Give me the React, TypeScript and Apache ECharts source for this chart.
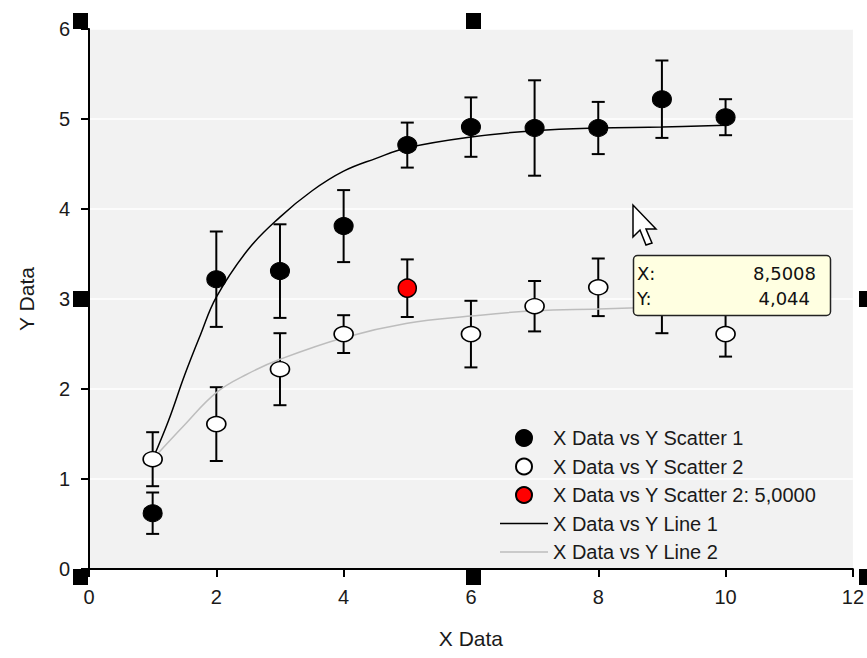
import React, { useEffect, useRef } from "react";
import * as echarts from "echarts";

const xValues = [1, 2, 3, 4, 5, 6, 7, 8, 9, 10];
const scatter1Y = [0.62, 3.22, 3.31, 3.81, 4.71, 4.91, 4.9, 4.9, 5.22, 5.02];
const scatter1Err = [0.23, 0.53, 0.52, 0.4, 0.25, 0.33, 0.53, 0.29, 0.43, 0.2];
const scatter2Y = [1.22, 1.61, 2.22, 2.61, 3.12, 2.61, 2.92, 3.13, 2.95, 2.61];
const scatter2Err = [0.3, 0.41, 0.4, 0.21, 0.32, 0.37, 0.28, 0.32, 0.33, 0.25];
const selectedIndex = 4;

const line1X = [1, 1.25, 1.5, 1.75, 2, 2.5, 3, 3.5, 4, 4.5, 5, 6, 7, 8, 9, 10];
const line1Y = [1.22, 1.65, 2.15, 2.6, 3.02, 3.55, 3.91, 4.2, 4.42, 4.56, 4.68, 4.8, 4.87, 4.9, 4.91, 4.93];
const line2X = [1, 1.5, 2, 2.5, 3, 4, 5, 6, 7, 8, 9, 10];
const line2Y = [1.22, 1.6, 1.96, 2.17, 2.33, 2.57, 2.73, 2.81, 2.87, 2.89, 2.91, 2.92];

const seriesNames = [
  "X Data vs Y Scatter 1",
  "X Data vs Y Scatter 2",
  "X Data vs Y Scatter 2: 5,0000",
  "X Data vs Y Line 1",
  "X Data vs Y Line 2",
];
const tooltipLabels = ["X:", "Y:"];
const tooltipValues = ["8,5008", "4,044"];

const FONT = "'Liberation Sans', Arial, sans-serif";
const TXT = "#1a1a1a";
const TIPFONT = "18px 'DejaVu Sans', sans-serif";

function errorBarItem(params: any, api: any) {
  const x = api.value(0);
  const y = api.value(1);
  const e = api.value(2);
  const top = api.coord([x, y + e]);
  const bot = api.coord([x, y - e]);
  const hw = 6.5;
  const st = { stroke: "#000", lineWidth: 2 };
  return {
    type: "group",
    children: [
      { type: "line", shape: { x1: top[0], y1: top[1], x2: bot[0], y2: bot[1] }, style: st },
      { type: "line", shape: { x1: top[0] - hw, y1: top[1], x2: top[0] + hw, y2: top[1] }, style: st },
      { type: "line", shape: { x1: bot[0] - hw, y1: bot[1], x2: bot[0] + hw, y2: bot[1] }, style: st },
    ],
  };
}

export default function App() {
  const ref = useRef<HTMLDivElement>(null);
  useEffect(() => {
    if (!ref.current) return;
    const chart = echarts.init(ref.current, undefined, { renderer: "svg" });

    const err1 = xValues.map((x, i) => [x, scatter1Y[i], scatter1Err[i]]);
    const err2 = xValues.map((x, i) => [x, scatter2Y[i], scatter2Err[i]]);
    const s1 = xValues.map((x, i) => [x, scatter1Y[i]]);
    const s2 = xValues.map((x, i) => [x, scatter2Y[i]]).filter((_, i) => i !== selectedIndex);
    const sSel = [[xValues[selectedIndex], scatter2Y[selectedIndex]]];
    const l1 = line1X.map((x, i) => [x, line1Y[i]]);
    const l2 = line2X.map((x, i) => [x, line2Y[i]]);

    const sq = (x: number, y: number) => ({
      type: "rect",
      shape: { x, y, width: 15, height: 16 },
      style: { fill: "#000" },
      z: 100,
    });

    const lineIcon = "path://M0,0H48V1.5H0Z";

    const option: any = {
      animation: false,
      backgroundColor: "#ffffff",
      grid: {
        left: 89,
        top: 29,
        right: 9,
        bottom: 89,
        show: true,
        backgroundColor: "#f2f2f2",
        borderWidth: 0,
      },
      xAxis: {
        type: "value",
        min: 0,
        max: 12,
        interval: 2,
        name: "X Data",
        nameLocation: "middle",
        nameGap: 59,
        nameTextStyle: { color: TXT, fontSize: 21, fontFamily: FONT },
        axisLine: { show: true, lineStyle: { color: "#000", width: 2 } },
        axisTick: { show: true, length: 8, lineStyle: { color: "#000", width: 2 } },
        axisLabel: { color: TXT, fontSize: 20, fontFamily: FONT, margin: 18 },
        splitLine: { show: false },
      },
      yAxis: {
        type: "value",
        min: 0,
        max: 6,
        interval: 1,
        name: "Y Data",
        nameLocation: "middle",
        nameGap: 52,
        nameTextStyle: { color: TXT, fontSize: 21, fontFamily: FONT },
        axisLine: { show: true, lineStyle: { color: "#000", width: 2 } },
        axisTick: { show: true, length: 8, lineStyle: { color: "#000", width: 2 } },
        axisLabel: { color: TXT, fontSize: 20, fontFamily: FONT, margin: 19 },
        splitLine: { show: true, lineStyle: { color: "#ffffff", width: 1.5 } },
      },
      legend: {
        orient: "vertical",
        left: 495,
        top: 422,
        itemWidth: 48,
        itemHeight: 16,
        itemGap: 6.5,
        selectedMode: false,
        textStyle: { color: TXT, fontSize: 20, fontFamily: FONT, lineHeight: 22 },
        data: [
          { name: seriesNames[0], icon: "circle" },
          { name: seriesNames[1], icon: "circle" },
          { name: seriesNames[2], icon: "circle" },
          { name: seriesNames[3], icon: lineIcon },
          { name: seriesNames[4], icon: lineIcon },
        ],
      },
      series: [
        {
          type: "custom",
          name: "err1",
          renderItem: errorBarItem,
          data: err1,
          encode: { x: 0, y: 1 },
          z: 3,
        },
        {
          type: "custom",
          name: "err2",
          renderItem: errorBarItem,
          data: err2,
          encode: { x: 0, y: 1 },
          z: 3,
        },
        {
          type: "line",
          name: seriesNames[3],
          data: l1,
          smooth: 0.4,
          symbol: "none",
          lineStyle: { color: "#000", width: 1.5 },
          itemStyle: { color: "#000" },
          z: 4,
        },
        {
          type: "line",
          name: seriesNames[4],
          data: l2,
          smooth: 0.4,
          symbol: "none",
          lineStyle: { color: "#bdbdbd", width: 1.5 },
          itemStyle: { color: "#bdbdbd" },
          z: 4,
        },
        {
          type: "scatter",
          name: seriesNames[0],
          data: s1,
          symbol: "circle",
          symbolSize: [19, 17],
          itemStyle: { color: "#000", borderColor: "#000", borderWidth: 1, opacity: 1 },
          z: 5,
        },
        {
          type: "scatter",
          name: seriesNames[1],
          data: s2,
          symbol: "circle",
          symbolSize: [19, 15],
          itemStyle: { color: "#fff", borderColor: "#000", borderWidth: 1.5, opacity: 1 },
          z: 5,
        },
        {
          type: "scatter",
          name: seriesNames[2],
          data: sSel,
          symbol: "circle",
          symbolSize: [18, 18],
          itemStyle: { color: "#ff0000", borderColor: "#000", borderWidth: 1.5, opacity: 1 },
          z: 6,
        },
      ],
      graphic: [
        sq(73, 13),
        sq(466, 13),
        sq(73, 291),
        sq(859, 291),
        sq(73, 569),
        sq(466, 569),
        sq(859, 569),
        {
          type: "polygon",
          shape: {
            points: [
              [633, 205],
              [633, 237],
              [640, 230],
              [646, 245],
              [652, 243],
              [646, 229],
              [656, 229],
            ],
          },
          style: { fill: "#fff", stroke: "#000", lineWidth: 1.5 },
          z: 100,
        },
        {
          type: "rect",
          shape: { x: 633.5, y: 255.5, width: 197, height: 60, r: 4 },
          style: { fill: "#ffffe1", stroke: "#222", lineWidth: 1.5 },
          z: 100,
        },
        {
          type: "text",
          x: 637,
          y: 273,
          style: { text: tooltipLabels[0], fill: "#111", font: TIPFONT, verticalAlign: "middle" },
          z: 101,
        },
        {
          type: "text",
          x: 637,
          y: 298,
          style: { text: tooltipLabels[1], fill: "#111", font: TIPFONT, verticalAlign: "middle" },
          z: 101,
        },
        {
          type: "text",
          x: 816,
          y: 273,
          style: { text: tooltipValues[0], fill: "#111", font: TIPFONT, align: "right", verticalAlign: "middle" },
          z: 101,
        },
        {
          type: "text",
          x: 810,
          y: 298,
          style: { text: tooltipValues[1], fill: "#111", font: TIPFONT, align: "right", verticalAlign: "middle" },
          z: 101,
        },
      ],
    };
    chart.setOption(option);
    return () => chart.dispose();
  }, []);
  return (
    <div
      ref={ref}
      style={{ position: "absolute", left: 0, top: 0, width: 867, height: 658 }}
    />
  );
}
